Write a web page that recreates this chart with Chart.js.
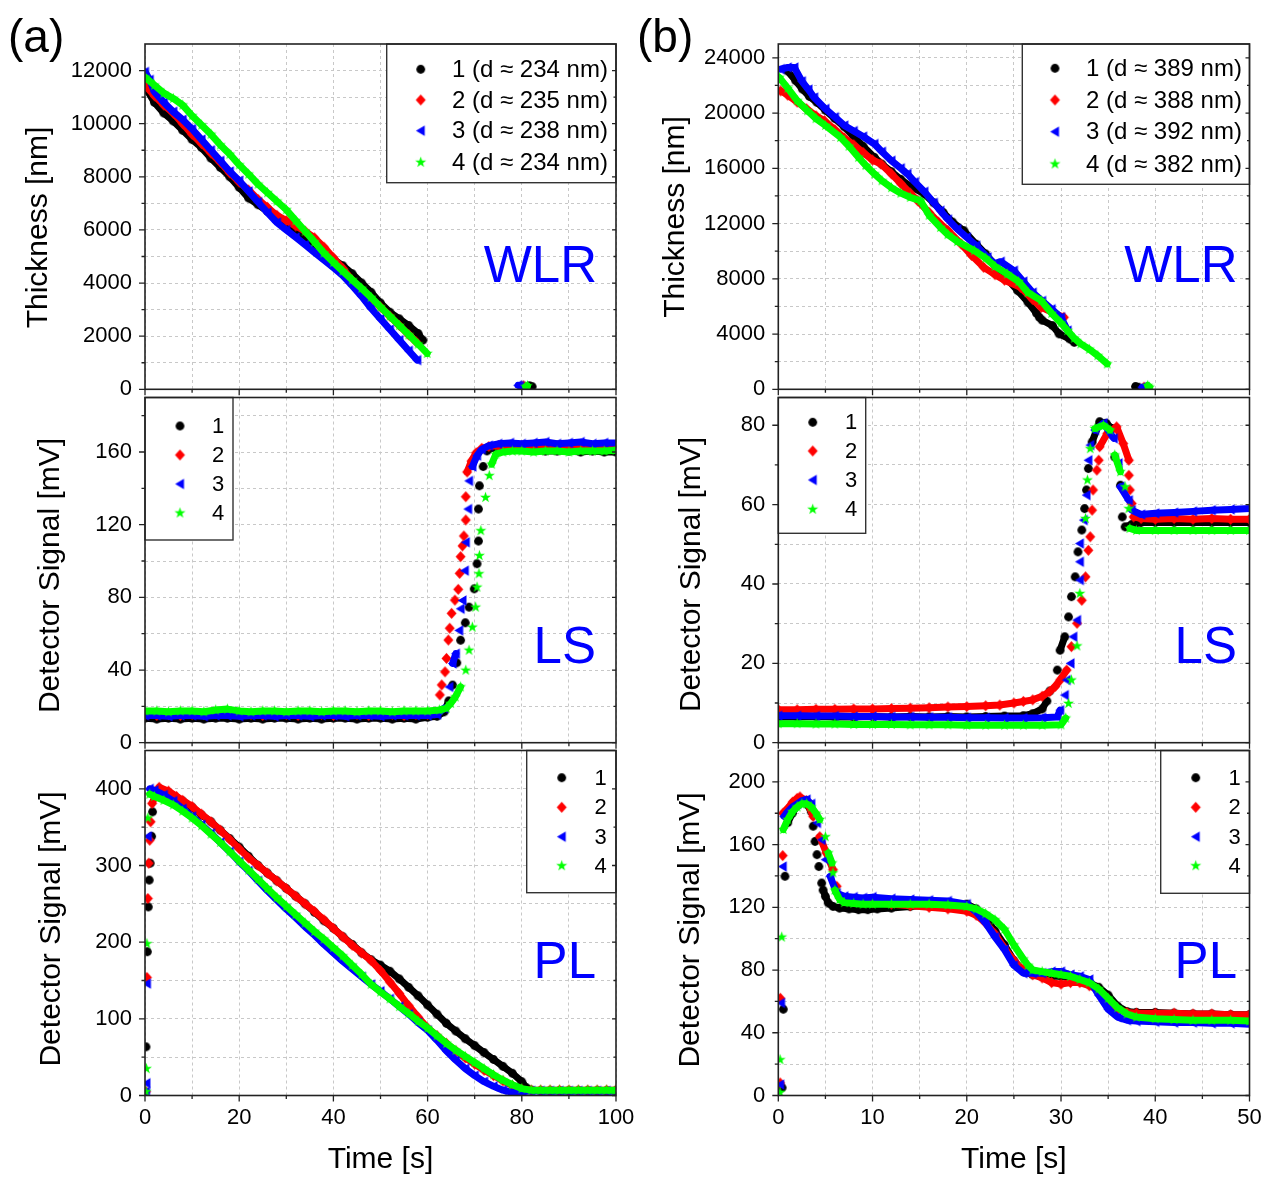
<!DOCTYPE html>
<html lang="en">
<head>
<meta charset="UTF-8">
<title>WLR / LS / PL signals</title>
<script src="https://cdn.jsdelivr.net/npm/chart.js"></script>
<style>
  body { margin: 0; background: #fff; }
  #page { position: relative; width: 1267px; height: 1177px; overflow: hidden; background: #fff; }
  #page canvas { position: absolute; }
</style>
</head>
<body>
<div id="page"></div>
<script>
// ---- data: [time s, value] ----
// (a) thickness
const wlrA1 = [[0.3,11300],[2,10800],[4,10400],[6,10100],[8,9750],[10,9400],[12,9100],[14,8700],[16,8350],[18,8000],[20,7600],[22,7200],[24,6950],[26,6700],[28,6450],[30,6200],[32,5950],[34,5700],[36,5450],[38,5200],[40,4900],[42,4650],[44,4350],[46,4000],[48,3650],[50,3250],[52,2900],[54,2650],[56,2400],[58,2100],[59,1850],[81.6,130],[82.2,100]];
const wlrA2 = [[0,11450],[2,11050],[4,10700],[6,10400],[8,10000],[10,9600],[12,9250],[14,8900],[16,8550],[18,8150],[20,7800],[22,7500],[24,7150],[26,6850],[28,6550],[30,6350],[32,6150],[34,5950],[36,5700],[38,5350],[40,4950],[42,4550],[44,4100],[46,3750],[48,3400],[50,3100],[52,2750],[54,2400],[56,2050],[57.5,1800],[80,100],[80.4,130]];
const wlrA3 = [[0,11950],[1,11650],[2,11200],[4,10800],[6,10450],[8,10150],[10,9800],[12,9400],[14,9000],[16,8600],[18,8200],[20,7850],[22,7450],[24,7050],[26,6650],[28,6280],[30,6000],[32,5720],[34,5440],[36,5150],[38,4870],[40,4580],[42,4280],[44,3900],[46,3500],[48,3050],[50,2650],[52,2250],[54,1850],[56,1450],[57.8,1100],[79.2,150],[79.6,120]];
const wlrA4 = [[0,11750],[2,11450],[4,11150],[6,10950],[8,10700],[10,10300],[12,9950],[14,9600],[16,9200],[18,8850],[20,8450],[22,8100],[24,7720],[26,7400],[28,7080],[30,6760],[32,6350],[34,5950],[36,5550],[38,5130],[40,4780],[42,4450],[44,4120],[46,3800],[48,3460],[50,3100],[52,2750],[54,2400],[56,2050],[58,1700],[59.9,1350],[80.8,100],[81.2,130]];

// (a) light scattering
const lsA1 = [[0,13.5],[2.5,13],[5,13.5],[7.5,13],[10,13.5],[12.5,13],[15,13.5],[17.5,13.5],[20,13],[22.5,13.5],[25,13],[27.5,13.5],[30,13.5],[32.5,13],[35,13.5],[37.5,13],[40,13.5],[42.5,13.5],[45,13],[47.5,13.5],[50,13.5],[52.5,13],[55,13.5],[57.5,13],[60,14],[62,14.5],[63.5,17],[64.5,23],[65.3,31.7],[66.2,44],[67,56.4],[68,66],[68.8,74.6],[69.9,84.7],[70.5,98.5],[70.8,111],[70.8,128.6],[71,141.4],[71.8,152],[72.6,160.6],[74,162.5],[76,163],[78,162],[80,161.5],[82.5,161],[85,160.5],[87.5,160.5],[90,160.5],[92.5,160],[95,160.5],[97.5,160],[100,160]];
const lsA2 = [[0,15.5],[2.5,15],[5,15.5],[7.5,15],[10,15.5],[12.5,15.5],[15,16],[17.5,16.5],[20,15.5],[22.5,15.5],[25,15],[27.5,15.5],[30,15.5],[32.5,15],[35,15.5],[37.5,15.5],[40,15],[42.5,15.5],[45,15.5],[47.5,15],[50,15.5],[52.5,15.5],[55,15],[57.5,15.5],[60,15.5],[61.5,16.5],[62.6,26.3],[63,31.8],[63.7,39],[64,46.4],[64.4,56.5],[64.7,63],[65.1,71.2],[65.8,78.5],[66.5,84.4],[66.8,93.2],[67,102.4],[67.4,108.3],[67.7,113.8],[68.1,122.6],[68.1,135.4],[68.4,149],[69.3,155],[70.3,159.5],[71.5,162],[73,163],[75,163.5],[77.5,163],[80,163.5],[82.5,163],[85,163],[87.5,163.5],[90,163],[92.5,163],[95,162.5],[97.5,163],[100,162.5]];
const lsA3 = [[0,15],[2.5,15],[5,14.5],[7.5,15],[10,15],[12.5,14.5],[15,15],[17.5,15],[20,14.5],[22.5,15],[25,15],[27.5,14.5],[30,15],[32.5,15],[35,14.5],[37.5,15],[40,15],[42.5,14.5],[45,15],[47.5,15],[50,14.5],[52.5,15],[55,15],[57.5,15],[60,15],[62,15.5],[63.5,19],[64.6,30.7],[65.3,43.6],[66,49],[66.7,61.8],[67,73.7],[67.4,78.3],[67.9,94.7],[68.1,110.3],[68.6,128.6],[68.8,144.1],[69.5,152],[70.5,158],[71.5,161.5],[73,163.5],[75,164.5],[77.5,165],[80,164.5],[82.5,165],[85,165.5],[87.5,164.5],[90,165],[92.5,165.5],[95,164.5],[97.5,165],[100,165]];
const lsA4 = [[0,17.5],[2.5,17.5],[5,17],[7.5,17.5],[10,17.5],[12.5,17],[15,18],[17.5,18.5],[20,17.5],[22.5,17],[25,17.5],[27.5,17.5],[30,17],[32.5,17.5],[35,17.5],[37.5,17],[40,17.5],[42.5,17.5],[45,17],[47.5,17.5],[50,17.5],[52.5,17],[55,17.5],[57.5,17.5],[60,17.5],[62.5,18],[64,19],[64.9,21.6],[65.9,25.2],[67,30.7],[68.1,39.9],[68.8,50.9],[69.5,63.6],[70.2,74.6],[70.5,85.6],[70.9,93],[71,103],[71.3,116.7],[72.3,135],[73.1,147],[73.6,153.3],[74.5,158.8],[76,160],[78,160.5],[80,160.5],[82.5,160],[85,160.5],[87.5,160.5],[90,160],[92.5,160.5],[95,160.5],[97.5,160.5],[100,161]];

// (a) photoluminescence
const plA1 = [[0.2,63.5],[0.5,187.5],[0.7,246],[0.9,281],[1.1,303],[1.4,338],[1.6,370],[2.5,392],[4,395],[6,390],[8,384],[10,376],[12,366],[14,357],[16,346],[18,335],[20,324],[22,312],[24,300],[26,290],[28,280],[30,270],[32,260],[34,250],[36,239],[38,228],[40,218],[42,207],[44,197],[46,186],[48,177],[50,170],[52,162],[54,152],[56,141],[58,130],[60,118],[62,106],[64,94],[66,84],[68,74],[70,65],[72,56],[74,47],[76,38],[78,29],[80,18],[81,10],[82,7],[84,6],[86,6],[88,6],[90,6],[92,6],[94,6],[96,6],[98,6],[100,6]];
const plA2 = [[0.2,5],[0.4,154],[0.6,257],[0.8,303],[1,333],[1.2,357],[1.5,381],[3,402],[5,397],[6.7,390],[8,385],[10,377],[12,367],[14,357],[16,346],[18,334],[20,322],[22,310],[24,300],[26,290],[28,280],[30,270],[32,260],[34,250],[36,240],[38,229],[40,218],[42,207],[44,196],[46,186],[48,176],[50,163],[52,148],[54,133],[56,117],[58,102],[60,88],[62,78],[64,68],[66,58],[68,49],[70,41],[72,33],[74,26],[76,19],[78,13],[80,8],[82,7],[84,7],[86,7],[88,7],[90,7],[92,7],[94,7],[96,7],[98,7],[100,7]];
const plA3 = [[0.2,5],[0.3,16],[0.4,146],[0.6,338],[1,400],[2,398],[4,392],[6,384],[8,374],[10,364],[12,353],[14,342],[16,330],[18,318],[20,305],[22,293],[24,280],[26,267],[28,255],[30,243],[32,232],[34,220],[36,209],[38,197],[40,186],[42,175],[44,165],[46,155],[48,145],[50,136],[52,126],[54,116],[56,106],[58,95],[60,85],[62,72],[64,58],[66,46],[68,35],[70,26],[72,18],[74,12],[76,7],[78,4],[80,5],[82,6],[84,6],[86,6],[88,6],[90,6],[92,6],[94,6],[96,6],[98,6],[100,6]];
const plA4 = [[0.2,5],[0.3,35],[0.4,198],[0.6,362],[1,393],[2,390],[4,385],[6,379],[8,371],[10,362],[12,352],[14,341],[16,330],[18,318],[20,306],[22,294],[24,282],[26,270],[28,258],[30,247],[32,236],[34,225],[36,214],[38,204],[40,193],[42,182],[44,170],[46,158],[48,145],[50,135],[52,126],[54,116],[56,107],[58,97],[60,88],[62,78],[64,68],[66,59],[68,51],[70,43],[72,35],[74,27],[76,20],[78,14],[80,9],[82,7],[84,7],[86,7],[88,7],[90,7],[92,7],[94,7],[96,7],[98,7],[100,7]];

// (b) thickness
const wlrB1 = [[0.95,23060],[1.85,22340],[2.55,21740],[3.3,21200],[4.1,20770],[5,20200],[6,19600],[7,19000],[8,18300],[9,17600],[10.2,16790],[11,16300],[12,15750],[13,15200],[14,14700],[15.5,14140],[16.5,13500],[17.5,12800],[18.5,12100],[19.7,11480],[21,10500],[22,9800],[23,9000],[24,8200],[25.4,7140],[26.5,6300],[27.4,5500],[27.7,5210],[28,5000],[29.1,4610],[29.8,4010],[30.9,3650],[31.4,3400],[37.9,200],[38.2,150]];
const wlrB2 = [[0.25,21610],[1,21300],[2,20800],[3,20300],[4,19800],[4.9,19440],[6,18800],[7,18200],[8,17700],[9,17150],[10,16600],[10.9,16310],[12,15600],[13,14900],[14,14200],[14.8,13650],[16,12800],[17,12100],[18,11500],[19.4,10520],[20.5,9700],[21.8,8830],[23,8300],[24,7900],[25.7,7380],[27,6500],[27.9,5930],[29,5600],[30.3,5210],[38.8,150],[39.1,100]];
const wlrB3 = [[0.25,23180],[1,23300],[1.7,23300],[2.5,22300],[3.2,21700],[3.8,21130],[5,20300],[6,19700],[7,19100],[8,18700],[9,18300],[10.2,17760],[11,17200],[12,16550],[13,16000],[13.7,15590],[14.5,15000],[15.5,14300],[16.5,13500],[17.2,12930],[18,12300],[19,11600],[20,11000],[21,10400],[22.2,9550],[23,9100],[23.6,9240],[25,8590],[26,7800],[27,7000],[28,6400],[29,5800],[30,5210],[30.7,4250],[38.6,150],[38.9,100]];
const wlrB4 = [[0.1,22580],[1,21800],[2,20900],[3.1,20170],[4,19600],[5,19100],[6.6,18240],[7.5,17600],[8.5,16800],[9.3,16200],[10.2,15590],[11,15100],[12,14600],[13,14200],[14,13900],[15.1,13650],[16,12600],[17.2,11720],[18,11200],[19,10700],[20.8,10040],[22,9500],[23,8900],[24.3,8350],[25.5,7800],[26.5,7000],[27.9,6420],[29,5500],[30,4800],[30.7,4250],[31.4,3700],[32.1,3290],[33,2900],[33.9,2440],[34.9,1840],[39.2,270],[39.4,150]];

// (b) light scattering
const lsB1 = [[0,6.5],[2,6.5],[4,6.6],[6,6.5],[8,6.5],[10,6.6],[12,6.5],[14,6.6],[16,6.5],[18,6.6],[20,6.5],[22,6.6],[24,6.7],[26,6.8],[27,7.3],[28,8.5],[28.5,10.5],[28.8,13],[29.6,18.3],[29.9,23.3],[30.4,26.7],[30.8,31.7],[31.1,36.8],[31.5,41.8],[31.8,48.1],[32.2,53.6],[32.5,59],[32.7,63.7],[32.9,69.1],[33.3,75.8],[34.1,80.9],[34.8,80.5],[35.4,79.2],[35.7,72],[36.3,64.9],[36.5,56.9],[36.8,54.4],[37.5,55],[38.5,55.5],[40,55.5],[42,55.5],[44,55.5],[46,55.5],[48,55.5],[50,55.5]];
const lsB2 = [[0,8.3],[2,8.3],[4,8.4],[6,8.4],[8,8.5],[10,8.5],[12,8.6],[14,8.7],[16,8.8],[18,9],[20,9.1],[22,9.3],[23.5,9.5],[25,10],[26,10.4],[27,10.8],[28,11.7],[28.8,12.9],[29.4,14.2],[29.9,15.8],[30.6,18.3],[31.1,24.2],[31.7,30.1],[32.2,35.9],[32.6,41.8],[32.9,48.5],[33.1,51.9],[33.3,58.6],[33.4,63.7],[33.8,68.7],[34,71.2],[34.1,74.6],[34.9,77.9],[35.9,79.6],[36.6,75.4],[37.2,71.2],[37.2,67.4],[37.3,63.7],[37.5,60.3],[37.7,56.9],[38.5,56.5],[40,56.3],[42,56.5],[44,56.3],[46,56.5],[48,56.3],[50,56.3]];
const lsB3 = [[0,6.8],[2,6.8],[4,6.7],[6,6.7],[8,6.6],[10,6.6],[12,6.5],[14,6.5],[16,6.4],[18,6.4],[20,6.3],[22,6.3],[24,6.2],[26,6.2],[28,6.3],[29.6,6.5],[29.9,8.2],[30.4,12],[30.6,15.8],[31,20],[31.3,26.7],[31.7,30.9],[32,41],[32,45.6],[32,50.2],[32.4,56.1],[32.7,62.4],[32.9,71.2],[33.1,75],[33.6,78.8],[34.5,80.5],[35.6,76.7],[36.1,70.4],[36.3,64.5],[37.2,61.1],[37.5,58.6],[38.5,57.5],[40,57.8],[42,58],[44,58.3],[46,58.6],[48,58.8],[50,59]];
const lsB4 = [[0,4.8],[2,4.8],[4,4.7],[6,4.7],[8,4.6],[10,4.6],[12,4.6],[14,4.5],[16,4.5],[18,4.5],[20,4.4],[22,4.4],[24,4.4],[26,4.4],[28,4.4],[30,4.5],[30.5,6.2],[30.8,9.9],[31.1,15.8],[31.7,24.4],[32,37.6],[32.6,56.5],[32.8,66.2],[33.1,74.1],[33.6,79.2],[34.5,80],[35.2,78.8],[35.7,72.5],[36.3,68.3],[36.8,64.5],[37.2,59],[37.3,54],[38,53.5],[40,53.5],[42,53.5],[44,53.5],[46,53.5],[48,53.5],[50,53.5]];

// (b) photoluminescence
const plB1 = [[0.4,5],[0.53,55],[0.71,139.8],[1,174],[1.5,180],[2,185],[2.5,187],[3,186],[3.5,181],[3.7,171.7],[3.9,162],[4.1,153.6],[4.3,146],[4.6,135.5],[4.75,131],[5,127],[5.3,122.8],[5.8,120.6],[6.5,119.5],[7.5,119],[8.5,118.5],[9.5,118.5],[10.5,119],[12,119.5],[14,120.5],[16,121.5],[18,122],[20,122],[21,119],[22,113],[23,105],[24,96],[25,86],[26,79],[27,77],[28,77],[29,76],[30,76],[31,75],[32,74],[33,72],[34,69],[35,64],[36,57],[37,53.5],[38,53],[40,53],[42,52.5],[44,52],[46,52],[48,51.5],[50,51.5]];
const plB2 = [[0.2,8],[0.22,62],[0.47,153],[0.5,180],[1,183],[1.5,187],[2,189.5],[2.3,190.4],[3,188],[3.7,178],[4.4,165],[5.1,154.7],[5.8,144],[6.2,133.4],[6.5,127],[7,125],[8,124],[9,123.5],[10,123],[12,122],[14,121],[16,120],[18,119],[20,117.5],[21,115],[22,110],[23,103],[24,94],[25,86],[26,80],[27,77],[28,75],[29,72],[30,71],[31,72],[32,72],[33,70],[34,67],[35,61],[36,55],[37,53],[38,52.5],[40,52.5],[42,52.5],[44,52],[46,52],[48,51.5],[50,51.5]];
const plB3 = [[0.2,7],[0.29,59],[0.47,146],[0.6,178],[1,181],[1.5,184],[2,186],[2.5,188],[3,188.7],[3.5,186],[4.1,173.8],[4.6,163],[5,150.4],[5.5,139.8],[6.2,129],[7,127],[8,126.5],[9,126],[10,126.5],[12,125.5],[14,125],[16,124.5],[18,124],[20,122],[21,117],[22,110],[23,101],[24,93],[25,83],[26,78],[27,78],[28,78],[29,79],[30,79],[31,77],[32,76],[33,74],[34,64],[35,55],[36,50],[37,48],[38,47.5],[40,47],[42,46.5],[44,46.5],[46,46],[48,46],[50,45.5]];
const plB4 = [[0.18,2],[0.19,22.8],[0.36,101],[0.53,169.6],[1,176],[1.5,181],[2,184],[2.5,186],[3,186],[3.5,184],[4,180],[4.4,176],[5,165],[5.3,154.7],[5.7,148.3],[5.8,142],[6,131],[6.5,125],[7,123],[8,122.5],[9,122],[10,122],[12,122],[14,122],[16,122],[18,121.5],[20,120.5],[21,119],[22,116],[23,112],[24,106],[25,96],[26,87],[26.5,83],[27,80],[28,79],[29,78],[30,77],[31,76],[32,74],[33,72],[34,68],[35,62],[36,56],[37,52],[38,50],[40,49],[42,48.5],[44,48],[46,48],[48,48],[50,47.5]];

// grid / tick positions (labels shown only at every labelStep)
const xTicksA = [0, 10, 20, 30, 40, 50, 60, 70, 80, 90, 100];
const xTicksB = [0, 5, 10, 15, 20, 25, 30, 35, 40, 45, 50];
const yTicksWlrA = [0, 1000, 2000, 3000, 4000, 5000, 6000, 7000, 8000, 9000, 10000, 11000, 12000];
const yTicksLsA = [0, 20, 40, 60, 80, 100, 120, 140, 160, 180];
const yTicksPlA = [0, 50, 100, 150, 200, 250, 300, 350, 400];
const yTicksWlrB = [0, 2000, 4000, 6000, 8000, 10000, 12000, 14000, 16000, 18000, 20000, 22000, 24000];
const yTicksLsB = [0, 10, 20, 30, 40, 50, 60, 70, 80];
const yTicksPlB = [0, 20, 40, 60, 80, 100, 120, 140, 160, 180, 200];

// legend labels
const namesWlrA = ['1 (d \u2248 234 nm)', '2 (d \u2248 235 nm)', '3 (d \u2248 238 nm)', '4 (d \u2248 234 nm)'];
const namesWlrB = ['1 (d \u2248 389 nm)', '2 (d \u2248 388 nm)', '3 (d \u2248 392 nm)', '4 (d \u2248 382 nm)'];
const namesRun = ['1', '2', '3', '4'];

const colors = ['#000000', '#ff0000', '#0000ff', '#00ff00'];
const shapes = ['circle', 'diamond', 'triangle', 'star'];

const FONT = '"Liberation Sans", Arial, Helvetica, sans-serif';
Chart.defaults.font.family = FONT;
Chart.defaults.color = '#000';

// marker images (filled symbols like the original)
function makeMarker(shape, color) {
    const c = document.createElement('canvas');
    c.width = 13; c.height = 13;
    const g = c.getContext('2d');
    const m = 6.5;
    g.fillStyle = color;
    g.beginPath();
    if (shape === 'circle') {
        g.arc(m, m, 4.4, 0, Math.PI * 2);
    } else if (shape === 'diamond') {
        g.moveTo(m, m - 5.5); g.lineTo(m + 5, m); g.lineTo(m, m + 5.5); g.lineTo(m - 5, m);
    } else if (shape === 'triangle') {
        g.moveTo(m - 4.8, m); g.lineTo(m + 4, m - 5.3); g.lineTo(m + 4, m + 5.3);
    } else {
        for (let i = 0; i < 10; i++) {
            const r = i % 2 ? 2.3 : 5.8;
            const a = -Math.PI / 2 + i * Math.PI / 5;
            g.lineTo(m + r * Math.cos(a), m + r * Math.sin(a));
        }
    }
    g.closePath();
    g.fill();
    return c;
}
const markers = shapes.map((s, i) => makeMarker(s, colors[i]));

// dense runs of markers are shown as a thick band; isolated / steep jumps stay as single markers
function segColor(ctx) {
    const dx = Math.abs(ctx.p1.x - ctx.p0.x);
    const dy = Math.abs(ctx.p1.y - ctx.p0.y);
    if (Math.hypot(dx, dy) > 22 || (dy > 6 && dy > 3 * dx)) return 'rgba(0,0,0,0)';
    return undefined;
}

const cols = [
    { left: 0, width: 640, axisW: 145, padR: 24, xMax: 100, xTicks: xTicksA, xLabelStep: 20 },
    { left: 640, width: 627, axisW: 138.3, padR: 17.5, xMax: 50, xTicks: xTicksB, xLabelStep: 10 }
];
const rows = [
    { top: 0, height: 398, padT: 44, xH: 8.7 },
    { top: 392, height: 360, padT: 5.5, xH: 9.3 },
    { top: 745, height: 432, padT: 5.5, xH: 81.5 }
];

const panels = [
    { col: 0, row: 0, series: [wlrA1, wlrA2, wlrA3, wlrA4], names: namesWlrA, legendFont: 24,
      yMax: 13000, yTicks: yTicksWlrA, yLabelStep: 2000,
      yTitle: { text: 'Thickness [nm]', x: 46.5, y: 227.5 },
      tag: { text: 'WLR', x: 597, y: 282 },
      legend: { box: [386.7, 44, 616, 182.7], mx: 420.7, tx: 452, rows: [69.3, 100, 130.7, 162.3] },
      letter: { text: '(a)', x: 8, y: 52 } },
    { col: 0, row: 1, series: [lsA1, lsA2, lsA3, lsA4], names: namesRun, legendFont: 22,
      yMax: 190, yTicks: yTicksLsA, yLabelStep: 40,
      yTitle: { text: 'Detector Signal [mV]', x: 59, y: 575.5 },
      tag: { text: 'LS', x: 596, y: 662.5 },
      legend: { box: [145, 397.5, 233, 540], mx: 180, tx: 212, rows: [426, 455, 484, 513] } },
    { col: 0, row: 2, series: [plA1, plA2, plA3, plA4], names: namesRun, legendFont: 22,
      yMax: 450, yTicks: yTicksPlA, yLabelStep: 100,
      yTitle: { text: 'Detector Signal [mV]', x: 59.5, y: 929 },
      tag: { text: 'PL', x: 596, y: 978.3 },
      legend: { box: [526.7, 750.5, 616, 892.7], mx: 561.7, tx: 594.5, rows: [777.7, 807.3, 836.7, 865.7] } },
    { col: 1, row: 0, series: [wlrB1, wlrB2, wlrB3, wlrB4], names: namesWlrB, legendFont: 24,
      yMax: 25000, yTicks: yTicksWlrB, yLabelStep: 4000,
      yTitle: { text: 'Thickness [nm]', x: 684, y: 217 },
      tag: { text: 'WLR', x: 1237.5, y: 282 },
      legend: { box: [1022.3, 44, 1249.5, 184.3], mx: 1055, tx: 1086, rows: [68.3, 100, 131.7, 164] },
      letter: { text: '(b)', x: 637, y: 52 } },
    { col: 1, row: 1, series: [lsB1, lsB2, lsB3, lsB4], names: namesRun, legendFont: 22,
      yMax: 87, yTicks: yTicksLsB, yLabelStep: 20,
      yTitle: { text: 'Detector Signal [mV]', x: 700, y: 574.5 },
      tag: { text: 'LS', x: 1237, y: 662.7 },
      legend: { box: [778.3, 397.5, 865.7, 533.3], mx: 812.7, tx: 845, rows: [422.3, 451, 480, 509.3] } },
    { col: 1, row: 2, series: [plB1, plB2, plB3, plB4], names: namesRun, legendFont: 22,
      yMax: 220, yTicks: yTicksPlB, yLabelStep: 40,
      yTitle: { text: 'Detector Signal [mV]', x: 699, y: 930 },
      tag: { text: 'PL', x: 1237, y: 978.3 },
      legend: { box: [1160.7, 750.5, 1249.5, 893.3], mx: 1195.7, tx: 1228.5, rows: [777.7, 807.3, 836.7, 865.7] } }
];

function decor(p, col, row) {
    return {
        id: 'decor',
        afterDraw(chart) {
            const ctx = chart.ctx, a = chart.chartArea;
            const ox = col.left, oy = row.top;
            ctx.save();

            // legend box
            const L = p.legend;
            const bx = L.box[0] - ox, by = L.box[1] - oy, bw = L.box[2] - L.box[0], bh = L.box[3] - L.box[1];
            ctx.fillStyle = '#fff';
            ctx.fillRect(bx, by, bw, bh);
            ctx.strokeStyle = '#333';
            ctx.lineWidth = 1.4;
            ctx.strokeRect(bx, by, bw, bh);
            ctx.font = p.legendFont + 'px ' + FONT;
            ctx.fillStyle = '#000';
            ctx.textAlign = 'left';
            ctx.textBaseline = 'middle';
            L.rows.forEach((ry, i) => {
                const m = markers[i];
                ctx.drawImage(m, L.mx - ox - m.width / 2, ry - oy - m.height / 2);
                ctx.fillText(p.names[i], L.tx - ox, ry - oy + 1);
            });

            // frame
            ctx.strokeStyle = '#222';
            ctx.lineWidth = 1.6;
            ctx.strokeRect(a.left, a.top, a.right - a.left, a.bottom - a.top);

            // tick marks: out on left/bottom, short inward ones on the right
            const xs = chart.scales.x, ys = chart.scales.y;
            ctx.lineWidth = 1.3;
            ctx.beginPath();
            xs.ticks.forEach(t => {
                const px = xs.getPixelForValue(t.value);
                const len = t.value % col.xLabelStep === 0 ? 6 : 3.5;
                ctx.moveTo(px, a.bottom); ctx.lineTo(px, a.bottom + len);
            });
            ys.ticks.forEach(t => {
                const py = ys.getPixelForValue(t.value);
                const major = t.value % p.yLabelStep === 0;
                ctx.moveTo(a.left, py); ctx.lineTo(a.left - (major ? 6 : 3.5), py);
                ctx.moveTo(a.right, py); ctx.lineTo(a.right - (major ? 4 : 2.5), py);
            });
            ctx.stroke();

            // axis titles
            ctx.fillStyle = '#000';
            ctx.font = '30px ' + FONT;
            ctx.textAlign = 'center';
            ctx.textBaseline = 'alphabetic';
            ctx.save();
            ctx.translate(p.yTitle.x - ox, p.yTitle.y - oy);
            ctx.rotate(-Math.PI / 2);
            ctx.fillText(p.yTitle.text, 0, 0);
            ctx.restore();
            if (p.row === 2) {
                ctx.fillText('Time [s]', (a.left + a.right) / 2, 1168 - oy);
            }

            // method tag
            ctx.fillStyle = '#0000ff';
            ctx.font = '51px ' + FONT;
            ctx.textAlign = 'right';
            ctx.fillText(p.tag.text, p.tag.x - ox, p.tag.y - oy);

            // panel letter
            if (p.letter) {
                ctx.fillStyle = '#000';
                ctx.font = '46px ' + FONT;
                ctx.textAlign = 'left';
                ctx.fillText(p.letter.text, p.letter.x - ox, p.letter.y - oy);
            }
            ctx.restore();
        }
    };
}

const page = document.getElementById('page');

panels.forEach(p => {
    const col = cols[p.col], row = rows[p.row];
    const canvas = document.createElement('canvas');
    canvas.width = col.width;
    canvas.height = row.height;
    canvas.style.left = col.left + 'px';
    canvas.style.top = row.top + 'px';
    canvas.style.width = col.width + 'px';
    canvas.style.height = row.height + 'px';
    page.appendChild(canvas);

    const zeroPad = s => { s.paddingLeft = 0; s.paddingRight = 0; s.paddingTop = 0; s.paddingBottom = 0; };

    new Chart(canvas, {
        type: 'line',
        data: {
            datasets: p.series.map((pts, i) => ({
                label: p.names[i],
                data: pts.map(([x, y]) => ({ x, y })),
                borderColor: colors[i],
                backgroundColor: colors[i],
                borderWidth: 7,
                borderCapStyle: 'round',
                borderJoinStyle: 'round',
                pointStyle: markers[i],
                pointRadius: 5,
                pointHoverRadius: 5,
                tension: 0,
                fill: false,
                order: 3 - i,
                segment: { borderColor: segColor }
            }))
        },
        options: {
            responsive: false,
            animation: false,
            events: [],
            layout: { autoPadding: false, padding: { top: row.padT, right: col.padR, left: 0, bottom: 0 } },
            plugins: { legend: { display: false }, tooltip: { enabled: false } },
            scales: {
                x: {
                    type: 'linear',
                    min: 0,
                    max: col.xMax,
                    afterBuildTicks: s => { s.ticks = col.xTicks.map(v => ({ value: v })); },
                    ticks: {
                        autoSkip: false,
                        maxRotation: 0,
                        display: p.row === 2,
                        padding: 9,
                        font: { size: 22 },
                        color: '#000',
                        callback: v => (v % col.xLabelStep === 0 ? String(v) : '')
                    },
                    grid: { color: '#c8c8c8', lineWidth: 1, drawTicks: false },
                    border: { display: false, dash: [3, 3] },
                    afterFit: s => { s.height = row.xH; zeroPad(s); }
                },
                y: {
                    type: 'linear',
                    min: 0,
                    max: p.yMax,
                    afterBuildTicks: s => { s.ticks = p.yTicks.map(v => ({ value: v })); },
                    ticks: {
                        autoSkip: false,
                        padding: 13,
                        font: { size: 22 },
                        color: '#000',
                        callback: v => (v % p.yLabelStep === 0 ? String(v) : '')
                    },
                    grid: { color: '#c8c8c8', lineWidth: 1, drawTicks: false },
                    border: { display: false, dash: [3, 3] },
                    afterFit: s => { s.width = col.axisW; zeroPad(s); }
                }
            }
        },
        plugins: [decor(p, col, row)]
    });
});
</script>
</body>
</html>
